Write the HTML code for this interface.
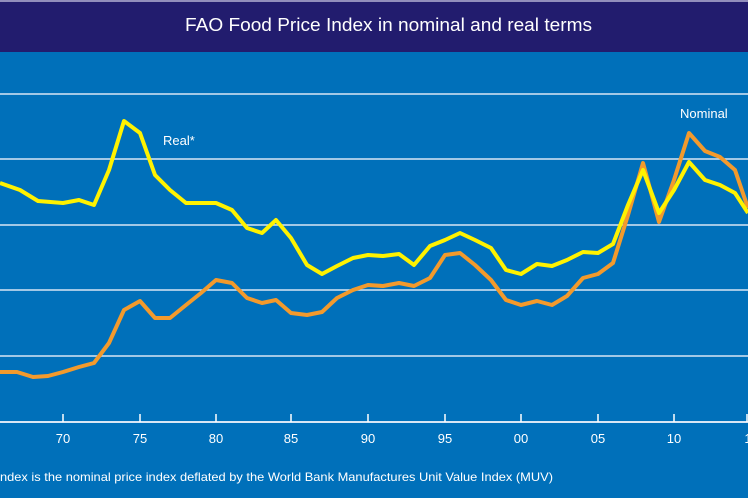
<!DOCTYPE html>
<html><head><meta charset="utf-8"><style>
html,body{margin:0;padding:0;width:748px;height:498px;overflow:hidden;background:#0070ba;font-family:"Liberation Sans",sans-serif}
</style></head><body>
<svg width="748" height="498" xmlns="http://www.w3.org/2000/svg">
<rect x="0" y="0" width="748" height="498" fill="#0070ba"/>
<rect x="0" y="0" width="748" height="52" fill="#221c6e"/>
<line x1="0" y1="1" x2="748" y2="1" stroke="#b7b3d6" stroke-width="1.5"/>
<text x="185" y="31" fill="#fff" font-size="18" textLength="407" lengthAdjust="spacingAndGlyphs">FAO Food Price Index in nominal and real terms</text>
<g stroke="#d8e6f5" stroke-width="1.5">
<line x1="0" y1="94" x2="748" y2="94"/>
<line x1="0" y1="159" x2="748" y2="159"/>
<line x1="0" y1="225" x2="748" y2="225"/>
<line x1="0" y1="290" x2="748" y2="290"/>
<line x1="0" y1="356" x2="748" y2="356"/>
<line x1="0" y1="422" x2="748" y2="422" stroke-width="2"/>
</g>
<g stroke="#fff" stroke-width="1.5">
<line x1="63" y1="414" x2="63" y2="422"/><line x1="140" y1="414" x2="140" y2="422"/><line x1="216" y1="414" x2="216" y2="422"/><line x1="291" y1="414" x2="291" y2="422"/><line x1="368" y1="414" x2="368" y2="422"/><line x1="445" y1="414" x2="445" y2="422"/><line x1="521" y1="414" x2="521" y2="422"/><line x1="598" y1="414" x2="598" y2="422"/><line x1="674" y1="414" x2="674" y2="422"/><line x1="747" y1="414" x2="747" y2="422"/>
</g>
<g fill="#fff" font-size="13" text-anchor="middle">
<text x="63" y="443">70</text><text x="140" y="443">75</text><text x="216" y="443">80</text><text x="291" y="443">85</text><text x="368" y="443">90</text><text x="445" y="443">95</text><text x="521" y="443">00</text><text x="598" y="443">05</text><text x="674" y="443">10</text><text x="748" y="443">1</text>
</g>
<text x="0" y="481" fill="#fff" font-size="12" textLength="553" lengthAdjust="spacingAndGlyphs">ndex is the nominal price index deflated by the World Bank Manufactures Unit Value Index (MUV)</text>
<polyline fill="none" stroke="#f39a2c" stroke-width="4" stroke-linejoin="round" points="0,372 17,372 33,377 48,376 63,372 79,367 94,363 109,343 124,310 140,301 155,318 170,318 186,305 201,293 216,280 232,283 247,298 262,303 276,300 291,313 307,315 322,312 337,298 353,290 368,285 383,286 399,283 414,286 430,278 445,255 460,253 475,265 491,280 506,300 521,305 537,301 552,305 567,296 583,278 598,274 613,263 628,215 643,163 659,222 674,180 689,133 705,151 720,157 735,170 748,208"/>
<polyline fill="none" stroke="#fff200" stroke-width="4" stroke-linejoin="round" points="0,183 20,190 38,201 63,203 79,200 94,205 109,170 124,121 140,133 155,175 170,190 186,203 201,203 216,203 232,210 247,228 262,233 276,220 291,238 307,265 322,274 337,266 353,258 368,255 383,256 399,254 414,265 430,246 445,240 460,233 475,240 491,248 506,270 521,274 537,264 552,266 567,260 583,252 598,253 613,244 628,205 643,170 659,213 674,190 689,162 705,180 720,185 735,193 748,213"/>
<text x="163" y="145" fill="#fff" font-size="13">Real*</text>
<text x="680" y="118" fill="#fff" font-size="13">Nominal</text>
</svg>
</body></html>
